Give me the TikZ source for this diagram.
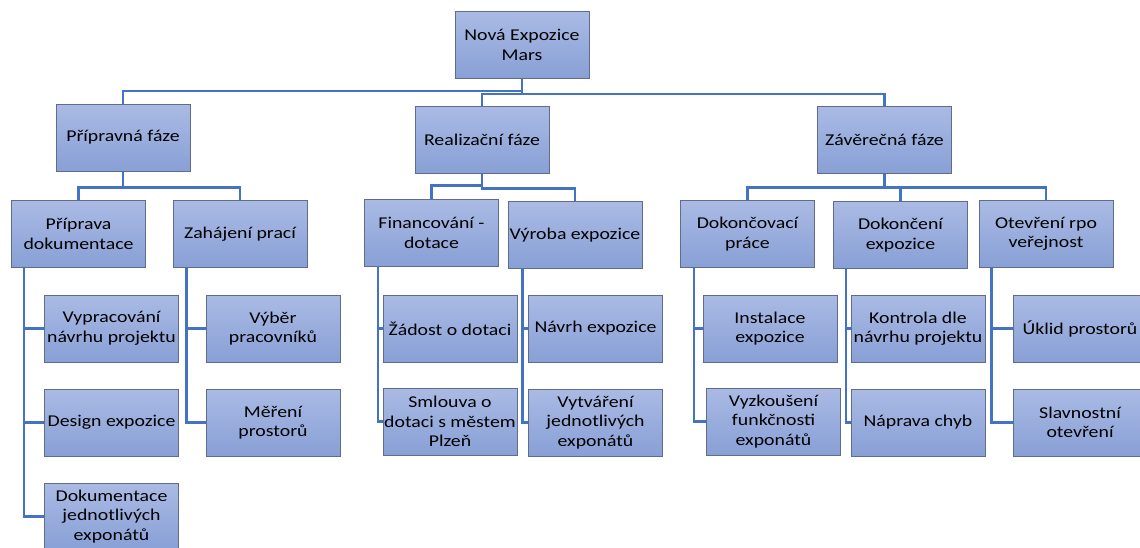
\documentclass[tikz,border=0pt]{standalone}
\usepackage{fontspec}
\setmainfont{Carlito}[FakeStretch=1.2]
\usetikzlibrary{calc}
\definecolor{boxtop}{RGB}{170,186,228}
\definecolor{boxbot}{RGB}{136,160,214}
\definecolor{boxline}{RGB}{96,108,140}
\definecolor{conn}{RGB}{68,114,196}
\begin{document}
\begin{tikzpicture}[x=1pt,y=-1pt,
  bx/.style={draw=boxline,line width=1pt,top color=boxtop,bottom color=boxbot,
    minimum width=134pt,minimum height=67pt,inner sep=0pt,align=center,
    font=\fontsize{16.5pt}{19.5pt}\selectfont},
  cn/.style={draw=conn,line width=2.3pt}]
\useasboundingbox (0,0) rectangle (1140,547);
\node[bx] (root) at (522,45) {Nová Expozice\\Mars};
\node[bx] (p1) at (123,137.5) {Přípravná fáze};
\node[bx] (p2) at (482,139.5) {Realizační fáze};
\node[bx] (p3) at (884.5,139.5) {Závěrečná fáze};
\node[bx] (a1) at (78.5,234) {Příprava\\dokumentace};
\node[bx] (a2) at (240,234) {Zahájení prací};
\node[bx] (b1) at (431.5,233) {Financování -\\dotace};
\node[bx] (b2) at (575,235) {Výroba expozice};
\node[bx] (c1) at (747.5,234) {Dokončovací\\práce};
\node[bx] (c2) at (900.5,235) {Dokončení\\expozice};
\node[bx] (c3) at (1046,234) {Otevření rpo\\veřejnost};
\node[bx] (a11) at (111.5,328.5) {Vypracování\\návrhu projektu};
\node[bx] (a12) at (111.5,422.5) {Design expozice};
\node[bx] (a13) at (111.5,516.5) {Dokumentace\\jednotlivých\\exponátů};
\node[bx] (a21) at (273,328.5) {Výběr\\pracovníků};
\node[bx] (a22) at (273,422.5) {Měření\\prostorů};
\node[bx] (b11) at (450,328.5) {Žádost o dotaci};
\node[bx] (b12) at (450,421.5) {Smlouva o\\dotaci s městem\\Plzeň};
\node[bx] (b21) at (595.5,328.5) {Návrh expozice};
\node[bx] (b22) at (595.5,422.5) {Vytváření\\jednotlivých\\exponátů};
\node[bx] (c11) at (770,328.5) {Instalace\\expozice};
\node[bx] (c12) at (773.5,421.5) {Vyzkoušení\\funkčnosti\\exponátů};
\node[bx] (c21) at (918,328.5) {Kontrola dle\\návrhu projektu};
\node[bx] (c22) at (918,422.5) {Náprava chyb};
\node[bx] (c31) at (1080,328.5) {Úklid prostorů};
\node[bx] (c32) at (1080,422.5) {Slavnostní\\otevření};
% level 1 -> 2
\draw[cn] (root.south) -- ++(0,12) -| (p1.north);
\draw[cn] (root.south) -- ++(0,15) -| (p2.north);
\draw[cn] (root.south) -- ++(0,15) -| (p3.north);
% level 2 -> 3
\draw[cn] (p1.south) -- ++(0,16) -| (a1.north);
\draw[cn] (p1.south) -- ++(0,16) -| (a2.north);
\draw[cn] (p2.south) -- ++(0,12) -| (b1.north);
\draw[cn] (p2.south) -- ++(0,15) -| (b2.north);
\draw[cn] (p3.south) -- ++(0,14) -| (c1.north);
\draw[cn] (p3.south) -- ++(0,14) -| (c2.north);
\draw[cn] (p3.south) -- ++(0,14) -| (c3.north);
% level 3 -> 4
\draw[cn] ($(a1.south west)+(13,0)$) |- (a11.west);
\draw[cn] ($(a1.south west)+(13,0)$) |- (a12.west);
\draw[cn] ($(a1.south west)+(13,0)$) |- (a13.west);
\draw[cn] ($(a2.south west)+(14,0)$) |- (a21.west);
\draw[cn] ($(a2.south west)+(14,0)$) |- (a22.west);
\draw[cn] ($(b1.south west)+(14,0)$) |- (b11.west);
\draw[cn] ($(b1.south west)+(14,0)$) |- (b12.west);
\draw[cn] ($(b2.south west)+(15,0)$) |- (b21.west);
\draw[cn] ($(b2.south west)+(15,0)$) |- (b22.west);
\draw[cn] ($(c1.south west)+(14,0)$) |- (c11.west);
\draw[cn] ($(c1.south west)+(14,0)$) |- (c12.west);
\draw[cn] ($(c2.south west)+(13,0)$) |- (c21.west);
\draw[cn] ($(c2.south west)+(13,0)$) |- (c22.west);
\draw[cn] ($(c3.south west)+(13,0)$) |- (c31.west);
\draw[cn] ($(c3.south west)+(13,0)$) |- (c32.west);
\end{tikzpicture}
\end{document}
